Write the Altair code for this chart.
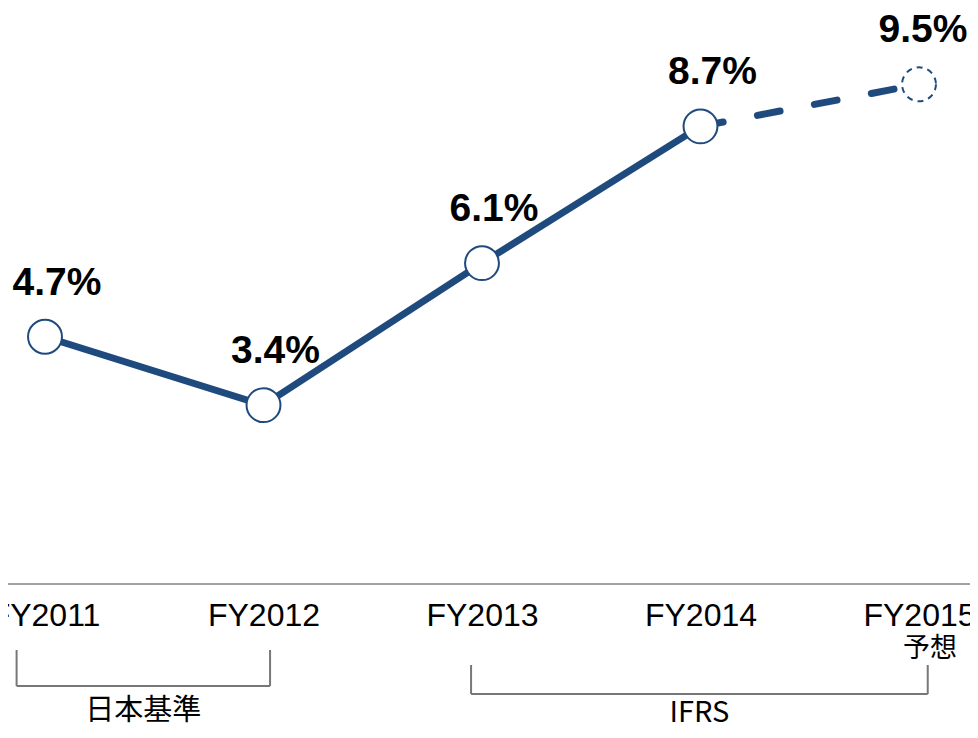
import json
import altair as alt
import pandas as pd

# ---- data ----
years = ["FY2011", "FY2012", "FY2013", "FY2014", "FY2015"]
margins = [4.7, 3.4, 6.1, 8.7, 9.5]
value_labels = ["4.7%", "3.4%", "6.1%", "8.7%", "9.5%"]
is_forecast = [False, False, False, False, True]
forecast_note = "予想"

bracket_names = ["日本基準", "IFRS"]
bracket_from = ["FY2011", "FY2013"]
bracket_to = ["FY2012", "FY2015"]

# ---- styling ----
BLUE = "#1F4A7D"
GREY = "#777777"

idx = list(range(len(years)))
df = pd.DataFrame({"idx": idx, "year": years, "margin": margins,
                   "label": value_labels, "forecast": is_forecast})
solid_df = df[~df["forecast"]]
last_actual = int(solid_df["idx"].max())
dash_df = df[df["idx"] >= last_actual]

left_pad = [0.13, 0.05]
right_pad = [0.03, 0.04]
br = pd.DataFrame({
    "name": bracket_names,
    "start": [years.index(a) - p for a, p in zip(bracket_from, left_pad)],
    "end": [years.index(b) + p for b, p in zip(bracket_to, right_pad)],
})
br["mid"] = (br["start"] + br["end"]) / 2

xscale = alt.Scale(domain=[0, len(years) - 1], range=[37, 911])
xaxis = alt.Axis(values=idx, labelExpr=f"{json.dumps(years)}[datum.value]",
                 ticks=False, domain=False, grid=False, title=None,
                 labelFont="Liberation Sans", labelFontSize=32, labelColor="black",
                 labelPadding=41, labelBaseline="alphabetic",
                 labelFlush=False, labelOverlap=False, labelBound=False)


def X(field):
    return alt.X(field, scale=xscale, axis=xaxis)


yscale = alt.Scale(domain=[0, 10.95], nice=False, zero=True)


def Y(field):
    return alt.Y(field, scale=yscale, axis=None)


axis_rule = alt.Chart(pd.DataFrame({"zero": [0]})).mark_rule(
    color="#444444", strokeWidth=1).encode(
    x=alt.value(-10), x2=alt.value(975), y=Y("zero:Q"))

line_solid = alt.Chart(solid_df).mark_line(
    color=BLUE, strokeWidth=7, strokeCap="round", strokeJoin="round").encode(
    x=X("idx:Q"), y=Y("margin:Q"))

line_dash = alt.Chart(dash_df).mark_line(
    color=BLUE, strokeWidth=7, strokeCap="round", strokeDash=[23, 35]).encode(
    x=X("idx:Q"), y=Y("margin:Q"))

pts_actual = alt.Chart(solid_df).mark_point(
    shape="circle", filled=False, fill="white", fillOpacity=1, size=1150,
    stroke=BLUE, strokeWidth=2, opacity=1).encode(
    x=X("idx:Q"), y=Y("margin:Q"))

pts_fc = alt.Chart(df[df["forecast"]]).mark_point(
    shape="circle", filled=False, fill="white", fillOpacity=1, size=1150,
    stroke=BLUE, strokeWidth=2, strokeDash=[6, 5], opacity=1).encode(
    x=X("idx:Q"), y=Y("margin:Q"))

value_text = alt.Chart(df[~df["forecast"]]).mark_text(
    font="Liberation Sans", fontSize=39, fontWeight="bold", color="black",
    dx=12, dy=-42, baseline="alphabetic", align="center").encode(
    x=X("idx:Q"), y=Y("margin:Q"), text="label:N")

value_text_fc = alt.Chart(df[df["forecast"]]).mark_text(
    font="Liberation Sans", fontSize=39, fontWeight="bold", color="black",
    dx=4, dy=-42, baseline="alphabetic", align="center").encode(
    x=X("idx:Q"), y=Y("margin:Q"), text="label:N")

note_text = alt.Chart(df[df["forecast"]].assign(note=forecast_note)).mark_text(
    font="Noto Sans CJK JP", fontSize=27, color="black", dx=11,
    baseline="middle", align="center").encode(
    x=X("idx:Q"), y=alt.value(641), text="note:N")

bracket_layers = []
tops = [642, 657]
bottoms = [678, 686]
label_y = [703, 705]
for i in range(len(br)):
    row = br.iloc[[i]]
    h = alt.Chart(row).mark_rule(color=GREY, strokeWidth=2).encode(
        x=X("start:Q"), x2="end", y=alt.value(bottoms[i]))
    ends = pd.DataFrame({"pos": [row["start"].iloc[0], row["end"].iloc[0]]})
    v = alt.Chart(ends).mark_rule(color=GREY, strokeWidth=2).encode(
        x=X("pos:Q"), y=alt.value(tops[i]), y2=alt.value(bottoms[i]))
    t = alt.Chart(row).mark_text(
        font="Noto Sans CJK JP", fontSize=29, color="black",
        baseline="middle", align="center").encode(
        x=X("mid:Q"), y=alt.value(label_y[i]), text="name:N")
    bracket_layers += [h, v, t]

chart = alt.layer(
    axis_rule, line_solid, line_dash, pts_actual, pts_fc, value_text,
    value_text_fc, note_text, *bracket_layers
).properties(
    width=962, height=576,
    padding={"left": 0, "top": 0, "right": 0, "bottom": 146},
    autosize=alt.AutoSizeParams(type="none"),
).configure_view(stroke=None)

chart.save("out.html", embed_options={"renderer": "svg", "actions": False})
